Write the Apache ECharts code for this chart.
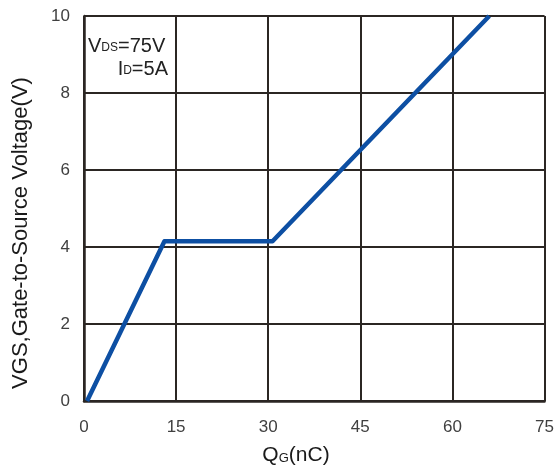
<!DOCTYPE html>
<html>
<head>
<meta charset="utf-8">
<script src="https://cdn.jsdelivr.net/npm/echarts@6/dist/echarts.min.js"></script>
<style>
  html, body { margin: 0; padding: 0; background: #fff; }
  #chart { width: 557px; height: 465px; }
</style>
</head>
<body>
<div id="chart"></div>
<script>
// Gate charge curve: VGS versus QG
const gateCharge = [0.5, 13.1, 30.7, 66.0];   // QG, nC
const gateVoltage = [0, 4.15, 4.15, 10];      // VGS, V
const xTicks = [0, 15, 30, 45, 60, 75];
const yTicks = [0, 2, 4, 6, 8, 10];

const FONT = 'Liberation Sans, Arial, sans-serif';
const gridColor = '#2b2623';

const chart = echarts.init(document.getElementById('chart'), null, { renderer: 'canvas' });

chart.setOption({
  backgroundColor: '#ffffff',
  animation: false,
  grid: { left: 84, right: 11, top: 16, bottom: 64 },
  xAxis: {
    type: 'value',
    min: xTicks[0],
    max: xTicks[xTicks.length - 1],
    interval: xTicks[1] - xTicks[0],
    axisLine: { show: true, lineStyle: { color: gridColor, width: 2.5 } },
    axisTick: { show: false },
    axisLabel: { color: '#404040', fontSize: 17, fontFamily: FONT, margin: 18 },
    splitLine: { show: true, lineStyle: { color: gridColor, width: 2 } }
  },
  yAxis: {
    type: 'value',
    min: yTicks[0],
    max: yTicks[yTicks.length - 1],
    interval: yTicks[1] - yTicks[0],
    axisLine: { show: true, lineStyle: { color: gridColor, width: 2.5 } },
    axisTick: { show: false },
    axisLabel: { color: '#404040', fontSize: 17, fontFamily: FONT, margin: 14 },
    splitLine: { show: true, lineStyle: { color: gridColor, width: 2 } }
  },
  series: [{
    type: 'line',
    data: gateCharge.map((q, i) => [q, gateVoltage[i]]),
    showSymbol: false,
    lineStyle: { color: '#0d4fa3', width: 4.5, join: 'round' },
    itemStyle: { color: '#0d4fa3' }
  }],
  graphic: [
    {
      type: 'text',
      left: 88, top: 36,
      style: {
        text: '{a|V}{b|DS}{a|=75V}',
        rich: {
          a: { fontSize: 20, fontFamily: FONT, fill: '#222', verticalAlign: 'bottom' },
          b: { fontSize: 12, fontFamily: FONT, fill: '#222', verticalAlign: 'bottom', padding: [0, 0, 2, 0] }
        }
      }
    },
    {
      type: 'text',
      right: 557 - 168, top: 59,
      style: {
        text: '{a|I}{b|D}{a|=5A}',
        align: 'right',
        rich: {
          a: { fontSize: 20, fontFamily: FONT, fill: '#222', verticalAlign: 'bottom' },
          b: { fontSize: 12, fontFamily: FONT, fill: '#222', verticalAlign: 'bottom', padding: [0, 0, 2, 0] }
        }
      }
    },
    {
      type: 'text',
      x: 21, y: 233,
      rotation: Math.PI / 2,
      style: {
        text: 'VGS,Gate-to-Source Voltage(V)',
        fontSize: 22, fontFamily: FONT, fill: '#1a1a1a',
        align: 'center', verticalAlign: 'middle'
      }
    },
    {
      type: 'text',
      x: 296, y: 455,
      style: {
        text: '{a|Q}{b|G}{a|(nC)}',
        align: 'center', verticalAlign: 'middle',
        rich: {
          a: { fontSize: 21, fontFamily: FONT, fill: '#1a1a1a', verticalAlign: 'bottom' },
          b: { fontSize: 13, fontFamily: FONT, fill: '#1a1a1a', verticalAlign: 'bottom', padding: [0, 0, 1, 0] }
        }
      }
    }
  ]
});
</script>
</body>
</html>
